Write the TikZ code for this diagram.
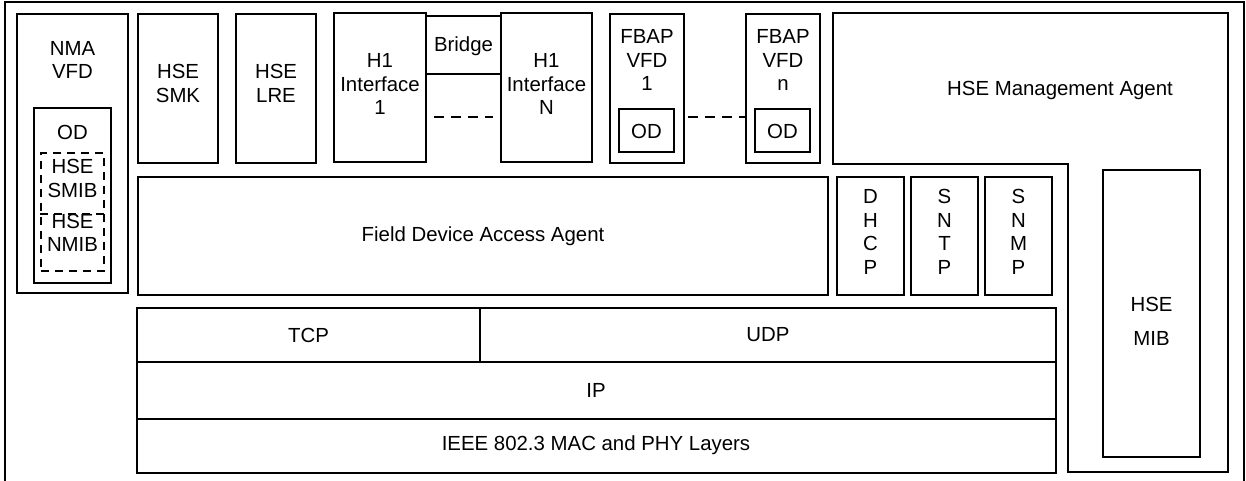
\documentclass[tikz,border=0pt]{standalone}
\usepackage{fontspec}
\setmainfont{Liberation Sans}
\usetikzlibrary{fit}

\begin{document}
\begin{tikzpicture}
   [x=0.5pt,y=-0.5pt,line width=0.8pt,
    every node/.style={font=\fontsize{10.2}{11.8}\selectfont,align=center,inner sep=0pt},
    blk/.style={draw,rectangle},
    dblk/.style={blk,dash pattern=on 4pt off 3pt},
    dashline/.style={dash pattern=on 5pt off 3.5pt}]

  \useasboundingbox (0,0) rectangle (1246,481);

  % outer frame, open at the bottom
  \draw (5,481) -- (5,2) -- (1244,2) -- (1244,481);

  % network management VFD
  \node[blk,fit={(17,14) (128,293)}] (nma) {};
  \node[blk,fit={(34,108) (111,283)}] (nmaod) {};
  \node[dblk,fit={(41,153) (104,271)}] (mibs) {};
  \draw[dash pattern=on 4pt off 3pt] ([yshift=-1]mibs.west) -- ([yshift=-1]mibs.east);
  \node (nmat) at (72.5,60) {NMA\\VFD};
  \node (nmaodt) at (72.5,132) {OD};
  \node (smibt) at (72.5,178.5) {HSE\\SMIB};
  \node (nmibt) at (72.5,233) {HSE\\NMIB};

  % top row
  \node[blk,fit={(138,14) (218,163)}] (smk) {};
  \node[blk,fit={(236,14) (316,163)}] (lre) {};
  \node[blk,fit={(334,13) (426,162)}] (h1a) {};
  \node[blk,fit={(426,16) (501,74)}] (brg) {};
  \node[blk,fit={(501,13) (592,162)}] (h1n) {};
  \node[blk,fit={(610,14) (684,163)}] (fb1) {};
  \node[blk,fit={(619,109) (674,152)}] (fb1od) {};
  \node[blk,fit={(746,14) (820,163)}] (fbn) {};
  \node[blk,fit={(755,109) (810,152)}] (fbnod) {};

  \node (smkt) at (178,83.5) {HSE\\SMK};
  \node (lret) at (276,83.5) {HSE\\LRE};
  \node (h1at) at (380,84) {H1\\Interface\\1};
  \node (brgt) at (463.5,46) {Bridge};
  \node (h1nt) at (546.5,84) {H1\\Interface\\N};
  \node (fb1t) at (647,60) {FBAP\\VFD\\1};
  \node (fbnt) at (783,60) {FBAP\\VFD\\n};
  \node (fb1odt) at (646.5,131) {OD};
  \node (fbnodt) at (782.5,131) {OD};

  \draw[dashline] ([shift={(7,-46)}]h1a.south east) -- ([shift={(-7,-46)}]h1n.south west);
  \draw[dashline] ([shift={(3,-47)}]fb1.south east) -- ([shift={(0,-47)}]fbn.south west);

  % management agent and MIB
  \draw (833,164) -- (833,13) -- (1228,13) -- (1228,472) -- (1068,472) -- (1068,164) -- cycle;
  \node (mgat) at (1060,90) {HSE Management Agent};
  \node[blk,fit={(1103,170) (1200,457)}] (mib) {};
  \node (mibt) at (1151.5,321) {HSE\\[5.2pt]MIB};

  % access agent and services
  \node[blk,fit={(138,177) (828,295)}] (fdaa) {};
  \node (fdaat) at (483,236) {Field Device Access Agent};
  \foreach \n/\x/\t in {dhcp/837/{D\\H\\C\\P},sntp/911/{S\\N\\T\\P},snmp/985/{S\\N\\M\\P}}{
    \node[blk,fit={(\x,177) (\x+67,295)}] (\n) {};
    \node (\n t) at (\x+33.5,232) {\t};
  }

  % protocol layers
  \node[blk,fit={(137,308) (480,362)}] (tcp) {};
  \node[blk,fit={(480,308) (1056,362)}] (udp) {};
  \node[blk,fit={(137,362) (1056,419)}] (ip) {};
  \node[blk,fit={(137,419) (1056,473)}] (mac) {};
  \node (tcpt) at (308.5,335) {TCP};
  \node (udpt) at (768,335) {UDP};
  \node (ipt) at (596,390) {IP};
  \node (mact) at (596,445) {IEEE 802.3 MAC and PHY Layers};

\end{tikzpicture}
\end{document}
